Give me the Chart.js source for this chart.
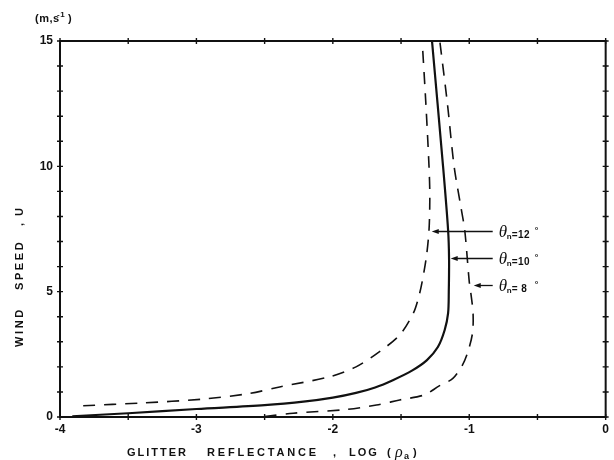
<!DOCTYPE html>
<html>
<head>
<meta charset="utf-8">
<script src="https://cdn.jsdelivr.net/npm/chart.js@4.4.0/dist/chart.umd.min.js"></script>
<style>
  html, body { margin: 0; padding: 0; background: #fff; }
  canvas { display: block; }
</style>
</head>
<body>
<canvas id="chart" width="614" height="460"></canvas>
<script>
// Glitter reflectance (log) against wind speed, for three facet angles
const theta12Log  = [-3.83, -3.4, -2.96, -2.61, -2.39, -2.02, -1.83, -1.66, -1.51, -1.41, -1.37, -1.345, -1.314, -1.295, -1.289, -1.295, -1.318, -1.345];
const theta12Wind = [0.45, 0.56, 0.71, 0.94, 1.2, 1.61, 2.0, 2.6, 3.27, 4.14, 4.8, 5.4, 6.4, 7.45, 8.8, 10.0, 12.5, 15];

const theta10Log  = [-3.91, -3.5, -3.0, -2.5, -2.2, -2.0, -1.83, -1.69, -1.56, -1.42, -1.31, -1.23, -1.18, -1.155, -1.15, -1.148, -1.155, -1.192, -1.273];
const theta10Wind = [0.03, 0.15, 0.32, 0.47, 0.62, 0.77, 0.96, 1.18, 1.47, 1.85, 2.27, 2.79, 3.47, 4.14, 5.0, 6.3, 7.45, 10.0, 15];

const theta8Log  = [-2.5, -2.29, -1.9, -1.68, -1.51, -1.33, -1.22, -1.12, -1.05, -1.01, -0.976, -0.972, -0.985, -1.0, -1.033, -1.062, -1.111, -1.16, -1.216];
const theta8Wind = [0.02, 0.15, 0.3, 0.48, 0.68, 0.88, 1.24, 1.54, 2.07, 2.6, 3.35, 4.14, 4.8, 5.4, 7.45, 8.4, 10.0, 12.5, 15];

const xTickLabels = ['-4', '-3', '-2', '-1', '0'];
const yTickLabels = ['0', '5', '10', '15'];
const thetaLabels = ['12', '10', ' 8'];

const ink = '#111';
const toPoints = (xs, ys) => xs.map((v, i) => ({ x: v, y: ys[i] }));
const bold = size => `bold ${size}px "Liberation Sans", Arial, sans-serif`;

// box with cross ticks on all four sides
const frameTicks = {
    id: 'frameTicks',
    afterDatasetsDraw(chart) {
        const { ctx, chartArea: a, scales: { x, y } } = chart;
        ctx.save();
        ctx.strokeStyle = ink;
        ctx.lineWidth = 2;
        ctx.strokeRect(a.left, a.top, a.right - a.left, a.bottom - a.top);
        ctx.lineWidth = 1.4;
        ctx.beginPath();
        x.ticks.forEach(t => {
            const px = x.getPixelForValue(t.value);
            ctx.moveTo(px, a.bottom - 3); ctx.lineTo(px, a.bottom + 3);
            ctx.moveTo(px, a.top - 3); ctx.lineTo(px, a.top + 3);
        });
        y.ticks.forEach(t => {
            const py = y.getPixelForValue(t.value);
            ctx.moveTo(a.left - 3, py); ctx.lineTo(a.left + 3, py);
            ctx.moveTo(a.right - 3, py); ctx.lineTo(a.right + 3, py);
        });
        ctx.stroke();
        ctx.restore();
    }
};

// titles, units and the theta arrows
const annotations = {
    id: 'annotations',
    afterDraw(chart) {
        const { ctx, scales: { x, y } } = chart;
        ctx.save();
        ctx.fillStyle = ink;
        ctx.strokeStyle = ink;
        ctx.textBaseline = 'alphabetic';
        ctx.textAlign = 'left';

        // unit label (m,s-1)
        ctx.font = bold(11);
        ctx.letterSpacing = '0.5px';
        ctx.fillText('(m,s', 35, 22);
        ctx.font = bold(8);
        ctx.fillText('-1', 57, 17);
        ctx.font = bold(11);
        ctx.fillText(')', 68, 22);

        // x axis title
        ctx.font = bold(11);
        ctx.letterSpacing = '2px';
        ctx.fillText('GLITTER', 127, 456);
        ctx.letterSpacing = '2.8px';
        ctx.fillText('REFLECTANCE', 207, 456);
        ctx.letterSpacing = '2px';
        ctx.fillText(',', 333, 456);
        ctx.fillText('LOG', 349, 456);
        ctx.fillText('(', 387, 456);
        ctx.fillText(')', 413, 456);
        ctx.letterSpacing = '0px';
        ctx.font = 'italic 16px "Liberation Serif", serif';
        ctx.fillText('\u03C1', 395, 457);
        ctx.font = bold(9);
        ctx.fillText('a', 404, 459);

        // y axis title, rotated
        ctx.save();
        ctx.translate(23, 347);
        ctx.rotate(-Math.PI / 2);
        ctx.font = bold(11);
        ctx.letterSpacing = '2.6px';
        ctx.fillText('WIND', 0, 0);
        ctx.fillText('SPEED', 57, 0);
        ctx.fillText(',', 121, 0);
        ctx.fillText('U', 131, 0);
        ctx.restore();

        // arrows pointing at each curve
        const marks = [
            { wind: 7.43, tip: -1.275 },
            { wind: 6.33, tip: -1.136 },
            { wind: 5.26, tip: -0.967 }
        ];
        const tail = x.getPixelForValue(-0.828);
        const textX = x.getPixelForValue(-0.784);
        marks.forEach((m, i) => {
            const py = Math.round(y.getPixelForValue(m.wind)) + 0.5;
            const tip = x.getPixelForValue(m.tip);
            ctx.lineWidth = 1.3;
            ctx.beginPath();
            ctx.moveTo(tail, py);
            ctx.lineTo(tip + 5, py);
            ctx.stroke();
            ctx.beginPath();
            ctx.moveTo(tip, py);
            ctx.lineTo(tip + 7, py - 2.5);
            ctx.lineTo(tip + 7, py + 2.5);
            ctx.closePath();
            ctx.fill();

            ctx.letterSpacing = '0px';
            ctx.font = 'italic 17px "Liberation Serif", serif';
            ctx.fillText('\u03B8', textX, py + 5);
            ctx.font = bold(8);
            ctx.fillText('n', textX + 8, py + 7);
            ctx.letterSpacing = '0.5px';
            ctx.font = bold(10);
            ctx.fillText('=' + thetaLabels[i], textX + 13, py + 6);
            ctx.letterSpacing = '0px';
            ctx.font = bold(9);
            ctx.fillText('\u00B0', textX + 36, py + 1);
        });
        ctx.restore();
    }
};

const lineStyle = {
    showLine: true,
    pointRadius: 0,
    borderColor: ink,
    backgroundColor: ink,
    fill: false,
    tension: 0.3
};

const tickFont = { family: 'Liberation Sans', size: 12, weight: 'bold' };

new Chart(document.getElementById('chart'), {
    type: 'scatter',
    data: {
        datasets: [
            { ...lineStyle, label: 'theta 12', data: toPoints(theta12Log, theta12Wind), borderWidth: 1.6, borderDash: [12, 9] },
            { ...lineStyle, label: 'theta 10', data: toPoints(theta10Log, theta10Wind), borderWidth: 2.2 },
            { ...lineStyle, label: 'theta 8', data: toPoints(theta8Log, theta8Wind), borderWidth: 1.6, borderDash: [12, 9] }
        ]
    },
    options: {
        responsive: false,
        animation: false,
        layout: { padding: { top: 41, right: 8, left: 0, bottom: 0 } },
        plugins: {
            legend: { display: false },
            tooltip: { enabled: false }
        },
        scales: {
            x: {
                type: 'linear',
                min: -4,
                max: 0,
                grid: { display: false, drawTicks: false },
                border: { display: false },
                ticks: {
                    stepSize: 0.5,
                    autoSkip: false,
                    maxRotation: 0,
                    padding: 5,
                    color: ink,
                    font: tickFont,
                    callback: v => xTickLabels.includes(String(v)) ? String(v) : ''
                },
                afterFit: s => { s.height = 43; }
            },
            y: {
                type: 'linear',
                min: 0,
                max: 15,
                grid: { display: false, drawTicks: false },
                border: { display: false },
                ticks: {
                    stepSize: 1,
                    autoSkip: false,
                    padding: 7,
                    color: ink,
                    font: tickFont,
                    callback: v => yTickLabels.includes(String(v)) ? String(v) : ''
                },
                afterFit: s => { s.width = 60; }
            }
        }
    },
    plugins: [frameTicks, annotations]
});
</script>
</body>
</html>
